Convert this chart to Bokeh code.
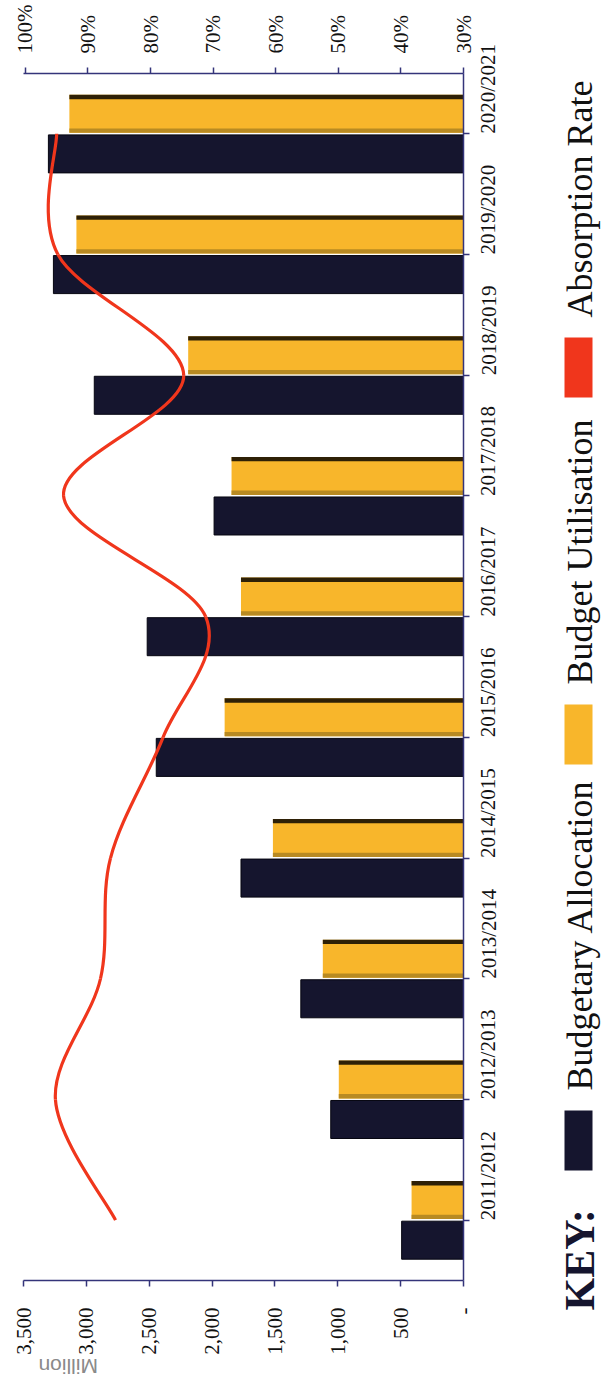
import math
from bokeh.plotting import figure
from bokeh.models import Range1d, LinearAxis, FixedTicker, Label, ColumnDataSource, BoxAnnotation
from bokeh.layouts import row
from bokeh.transform import dodge
from bokeh.embed import file_html
from bokeh.resources import INLINE

# ---------------- data ----------------
categories = ["2011/2012", "2012/2013", "2013/2014", "2014/2015", "2015/2016",
              "2016/2017", "2017/2018", "2018/2019", "2019/2020", "2020/2021"]
allocation = [492, 1056, 1294, 1770, 2444, 2516, 1984, 2937, 3262, 3302]
utilisation = [413, 992, 1119, 1516, 1900, 1770, 1845, 2190, 3079, 3135]
absorption = [85.6, 95.2, 88.0, 86.4, 78.0, 71.2, 93.9, 74.7, 94.8, 95.0]

million_ticks = [0, 500, 1000, 1500, 2000, 2500, 3000, 3500]
million_labels = ["-", "500", "1,000", "1,500", "2,000", "2,500", "3,000", "3,500"]
pct_ticks = [30, 40, 50, 60, 70, 80, 90, 100]
pct_labels = ["30%", "40%", "50%", "60%", "70%", "80%", "90%", "100%"]
legend_labels = ["Budgetary Allocation", "Budget Utilisation", "Absorption Rate"]
key_title = "KEY:"
value_axis_title = "Million"

# ---------------- styles ----------------
NAVY = "#15152e"
YELLOW = "#f8b62b"
YEL_TOP = "#2e2006"
YEL_BOT = "#b88a22"
RED = "#f0361c"
AXC = "#34347a"
SERIF = "Liberation Serif"

W, H = 606, 1389
TOP, FRAME_H, BOTTOM = 73, 1207, 109
LEFT, FRAME_W, RIGHT = 23, 440, 75

idx = list(range(len(categories)))
src = ColumnDataSource(dict(cat=categories, idx=idx, alloc=allocation, util=utilisation))

p = figure(frame_width=FRAME_W, frame_height=FRAME_H,
           x_range=Range1d(3500, 0), y_range=Range1d(-0.5, 9.5),
           x_axis_location="below", y_axis_location="right",
           output_backend="svg", toolbar_location=None,
           min_border_left=LEFT, min_border_right=RIGHT, min_border_top=TOP, min_border_bottom=BOTTOM,
           outline_line_color=None, background_fill_color="white", border_fill_color="white")
p.xgrid.visible = False
p.ygrid.visible = False

p.extra_x_ranges = {"pct": Range1d(100.3, 30)}
pct_axis = LinearAxis(x_range_name="pct")
p.add_layout(pct_axis, "above")


def style(ax, standoff):
    ax.axis_line_color = AXC
    ax.axis_line_width = 1.5
    ax.major_tick_line_color = AXC
    ax.major_tick_line_width = 1.5
    ax.major_tick_in = 0
    ax.major_tick_out = 6
    ax.minor_tick_line_color = None
    ax.major_label_text_font = SERIF
    ax.major_label_text_font_size = "21px"
    ax.major_label_text_color = "#111111"
    ax.major_label_orientation = math.pi / 2
    ax.major_label_standoff = standoff


xa = p.below[0]
xa.ticker = FixedTicker(ticks=million_ticks)
xa.major_label_overrides = {t: l for t, l in zip(million_ticks, million_labels)}
style(xa, 21)

pct_axis.ticker = FixedTicker(ticks=pct_ticks)
pct_axis.major_label_overrides = {t: l for t, l in zip(pct_ticks, pct_labels)}
style(pct_axis, 14)

ya = p.right[0]
ya.ticker = FixedTicker(ticks=idx)
ya.major_label_overrides = {i: c for i, c in zip(idx, categories)}
style(ya, 19)

# value-axis title, upside down at the left end of the value axis
title_pos = 3381
mil_axis = LinearAxis(ticker=FixedTicker(ticks=[title_pos]),
                      major_label_overrides={title_pos: value_axis_title})
mil_axis.axis_line_color = None
mil_axis.major_tick_line_color = None
mil_axis.minor_tick_line_color = None
mil_axis.major_tick_out = 0
mil_axis.major_tick_in = 0
mil_axis.major_label_orientation = math.pi
mil_axis.major_label_standoff = 9
mil_axis.major_label_text_font = "Liberation Sans"
mil_axis.major_label_text_font_size = "21px"
mil_axis.major_label_text_color = "#8a8a8a"
p.add_layout(mil_axis, "below")

# bars
BH = 0.315
p.hbar(y=dodge("idx", -0.166), left=0, right="alloc", height=BH, source=src,
       fill_color=NAVY, line_color="#050510", line_width=1)
p.hbar(y=dodge("idx", 0.166), left=0, right="util", height=BH, source=src,
       fill_color=YELLOW, line_color=None)
p.hbar(y=dodge("idx", 0.166 + BH / 2 - 0.018), left=0, right="util", height=0.036, source=src,
       fill_color=YEL_TOP, line_color=None)
p.hbar(y=dodge("idx", 0.166 - BH / 2 + 0.018), left=0, right="util", height=0.036, source=src,
       fill_color=YEL_BOT, line_color=None)

# smoothed absorption line (cubic Bezier segments through the data points)
pts = list(zip(absorption, idx))
n = len(pts)
bz = dict(x0=[], y0=[], x1=[], y1=[], cx0=[], cy0=[], cx1=[], cy1=[])
for i in range(n - 1):
    a = pts[i - 1] if i > 0 else pts[i]
    b = pts[i]
    c = pts[i + 1]
    d = pts[i + 2] if i + 2 < n else pts[i + 1]
    bz["x0"].append(b[0]); bz["y0"].append(b[1])
    bz["x1"].append(c[0]); bz["y1"].append(c[1])
    bz["cx0"].append(b[0] + (c[0] - a[0]) / 6); bz["cy0"].append(b[1] + (c[1] - a[1]) / 6)
    bz["cx1"].append(c[0] - (d[0] - b[0]) / 6); bz["cy1"].append(c[1] - (d[1] - b[1]) / 6)
p.bezier(x0="x0", y0="y0", x1="x1", y1="y1", cx0="cx0", cy0="cy0", cx1="cx1", cy1="cy1",
         source=ColumnDataSource(bz), x_range_name="pct", line_color=RED, line_width=3.2)

# ---------------- legend panel ----------------
MAIN_W = LEFT + FRAME_W + RIGHT
LW = W - MAIN_W
lg = figure(frame_width=LW, frame_height=H,
            x_range=Range1d(MAIN_W, W), y_range=Range1d(0, H),
            x_axis_location=None, y_axis_location=None, min_border=0,
            output_backend="svg", toolbar_location=None, outline_line_color=None,
            background_fill_color="white", border_fill_color="white")
lg.xgrid.visible = False
lg.ygrid.visible = False
try:
    lg.frame_align = False
    p.frame_align = False
except Exception:
    pass


def py(page_y):
    return H - page_y


lg.add_layout(Label(x=579, y=py(1310), text=key_title, angle=math.pi / 2,
                    text_align="left", text_baseline="middle",
                    text_font=SERIF, text_font_style="bold", text_font_size="42px",
                    text_color="#15152e"))
swatches = [(NAVY, 1110, 1170), (YELLOW, 704, 764), (RED, 337, 397)]
starts = [1090, 684, 317]
for (col, top, bot), lab, st in zip(swatches, legend_labels, starts):
    lg.add_layout(BoxAnnotation(left=564, right=592, bottom=py(bot), top=py(top),
                                fill_color=col, fill_alpha=1, line_color=None))
    lg.add_layout(Label(x=579, y=py(st), text=lab, angle=math.pi / 2,
                        text_align="left", text_baseline="middle",
                        text_font=SERIF, text_font_size="36px", text_color="#111111"))

layout = row(p, lg)
open("out.html", "w").write(file_html(layout, INLINE))
